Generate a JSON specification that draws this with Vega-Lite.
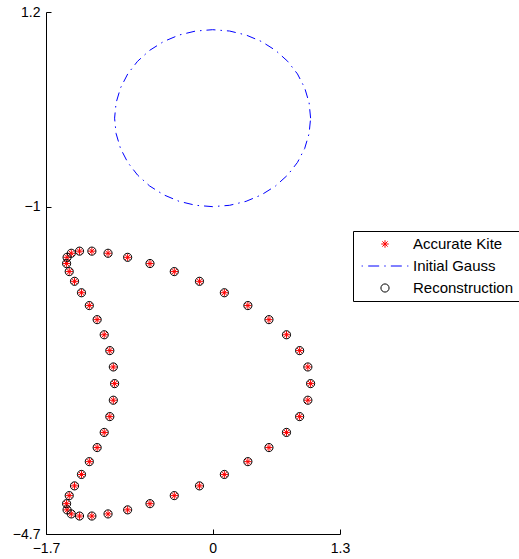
{
  "$schema": "https://vega.github.io/schema/vega-lite/v6.json",
  "width": 294,
  "height": 522,
  "autosize": {"type": "none"},
  "padding": {"left": 46, "top": 12, "right": 179, "bottom": 25},
  "background": "white",
  "config": {
    "view": {"stroke": null},
    "font": "Liberation Sans",
    "axis": {
      "grid": false,
      "domainColor": "black",
      "tickColor": "black",
      "labelColor": "black",
      "labelFont": "Liberation Sans",
      "labelFontSize": 14,
      "tickSize": -5,
      "labelFlush": false,
      "labelOverlap": false,
      "title": null
    },
    "axisX": {"labelPadding": 12},
    "axisY": {"labelPadding": 11},
    "legend": {
      "labelFont": "Liberation Sans",
      "labelFontSize": 15,
      "labelColor": "black",
      "strokeColor": "black",
      "fillColor": "white",
      "padding": 5,
      "rowPadding": 6,
      "clipHeight": 16,
      "labelOffset": 4,
      "symbolOffset": 3,
      "symbolSize": 2180,
      "symbolStrokeWidth": 1,
      "symbolFillColor": "transparent"
    }
  },
  "data": {
    "values": [
      {"s": "Accurate Kite", "x": 1.000, "y": -3.000},
      {"s": "Accurate Kite", "x": 0.972, "y": -2.812},
      {"s": "Accurate Kite", "x": 0.888, "y": -2.627},
      {"s": "Accurate Kite", "x": 0.754, "y": -2.448},
      {"s": "Accurate Kite", "x": 0.575, "y": -2.277},
      {"s": "Accurate Kite", "x": 0.360, "y": -2.118},
      {"s": "Accurate Kite", "x": 0.120, "y": -1.973},
      {"s": "Accurate Kite", "x": -0.134, "y": -1.844},
      {"s": "Accurate Kite", "x": -0.391, "y": -1.734},
      {"s": "Accurate Kite", "x": -0.639, "y": -1.643},
      {"s": "Accurate Kite", "x": -0.867, "y": -1.573},
      {"s": "Accurate Kite", "x": -1.067, "y": -1.527},
      {"s": "Accurate Kite", "x": -1.232, "y": -1.503},
      {"s": "Accurate Kite", "x": -1.358, "y": -1.503},
      {"s": "Accurate Kite", "x": -1.442, "y": -1.527},
      {"s": "Accurate Kite", "x": -1.485, "y": -1.573},
      {"s": "Accurate Kite", "x": -1.490, "y": -1.643},
      {"s": "Accurate Kite", "x": -1.463, "y": -1.734},
      {"s": "Accurate Kite", "x": -1.409, "y": -1.844},
      {"s": "Accurate Kite", "x": -1.338, "y": -1.973},
      {"s": "Accurate Kite", "x": -1.258, "y": -2.118},
      {"s": "Accurate Kite", "x": -1.178, "y": -2.277},
      {"s": "Accurate Kite", "x": -1.106, "y": -2.448},
      {"s": "Accurate Kite", "x": -1.049, "y": -2.627},
      {"s": "Accurate Kite", "x": -1.013, "y": -2.812},
      {"s": "Accurate Kite", "x": -1.000, "y": -3.000},
      {"s": "Accurate Kite", "x": -1.013, "y": -3.188},
      {"s": "Accurate Kite", "x": -1.049, "y": -3.373},
      {"s": "Accurate Kite", "x": -1.106, "y": -3.552},
      {"s": "Accurate Kite", "x": -1.178, "y": -3.723},
      {"s": "Accurate Kite", "x": -1.258, "y": -3.882},
      {"s": "Accurate Kite", "x": -1.338, "y": -4.027},
      {"s": "Accurate Kite", "x": -1.409, "y": -4.156},
      {"s": "Accurate Kite", "x": -1.463, "y": -4.266},
      {"s": "Accurate Kite", "x": -1.490, "y": -4.357},
      {"s": "Accurate Kite", "x": -1.485, "y": -4.427},
      {"s": "Accurate Kite", "x": -1.442, "y": -4.473},
      {"s": "Accurate Kite", "x": -1.358, "y": -4.497},
      {"s": "Accurate Kite", "x": -1.232, "y": -4.497},
      {"s": "Accurate Kite", "x": -1.067, "y": -4.473},
      {"s": "Accurate Kite", "x": -0.867, "y": -4.427},
      {"s": "Accurate Kite", "x": -0.639, "y": -4.357},
      {"s": "Accurate Kite", "x": -0.391, "y": -4.266},
      {"s": "Accurate Kite", "x": -0.134, "y": -4.156},
      {"s": "Accurate Kite", "x": 0.120, "y": -4.027},
      {"s": "Accurate Kite", "x": 0.360, "y": -3.882},
      {"s": "Accurate Kite", "x": 0.575, "y": -3.723},
      {"s": "Accurate Kite", "x": 0.754, "y": -3.552},
      {"s": "Accurate Kite", "x": 0.888, "y": -3.373},
      {"s": "Accurate Kite", "x": 0.972, "y": -3.188},
      {"s": "Reconstruction", "x": 1.000, "y": -3.000},
      {"s": "Reconstruction", "x": 0.972, "y": -2.812},
      {"s": "Reconstruction", "x": 0.888, "y": -2.627},
      {"s": "Reconstruction", "x": 0.754, "y": -2.448},
      {"s": "Reconstruction", "x": 0.575, "y": -2.277},
      {"s": "Reconstruction", "x": 0.360, "y": -2.118},
      {"s": "Reconstruction", "x": 0.120, "y": -1.973},
      {"s": "Reconstruction", "x": -0.134, "y": -1.844},
      {"s": "Reconstruction", "x": -0.391, "y": -1.734},
      {"s": "Reconstruction", "x": -0.639, "y": -1.643},
      {"s": "Reconstruction", "x": -0.867, "y": -1.573},
      {"s": "Reconstruction", "x": -1.067, "y": -1.527},
      {"s": "Reconstruction", "x": -1.232, "y": -1.503},
      {"s": "Reconstruction", "x": -1.358, "y": -1.503},
      {"s": "Reconstruction", "x": -1.442, "y": -1.527},
      {"s": "Reconstruction", "x": -1.485, "y": -1.573},
      {"s": "Reconstruction", "x": -1.490, "y": -1.643},
      {"s": "Reconstruction", "x": -1.463, "y": -1.734},
      {"s": "Reconstruction", "x": -1.409, "y": -1.844},
      {"s": "Reconstruction", "x": -1.338, "y": -1.973},
      {"s": "Reconstruction", "x": -1.258, "y": -2.118},
      {"s": "Reconstruction", "x": -1.178, "y": -2.277},
      {"s": "Reconstruction", "x": -1.106, "y": -2.448},
      {"s": "Reconstruction", "x": -1.049, "y": -2.627},
      {"s": "Reconstruction", "x": -1.013, "y": -2.812},
      {"s": "Reconstruction", "x": -1.000, "y": -3.000},
      {"s": "Reconstruction", "x": -1.013, "y": -3.188},
      {"s": "Reconstruction", "x": -1.049, "y": -3.373},
      {"s": "Reconstruction", "x": -1.106, "y": -3.552},
      {"s": "Reconstruction", "x": -1.178, "y": -3.723},
      {"s": "Reconstruction", "x": -1.258, "y": -3.882},
      {"s": "Reconstruction", "x": -1.338, "y": -4.027},
      {"s": "Reconstruction", "x": -1.409, "y": -4.156},
      {"s": "Reconstruction", "x": -1.463, "y": -4.266},
      {"s": "Reconstruction", "x": -1.490, "y": -4.357},
      {"s": "Reconstruction", "x": -1.485, "y": -4.427},
      {"s": "Reconstruction", "x": -1.442, "y": -4.473},
      {"s": "Reconstruction", "x": -1.358, "y": -4.497},
      {"s": "Reconstruction", "x": -1.232, "y": -4.497},
      {"s": "Reconstruction", "x": -1.067, "y": -4.473},
      {"s": "Reconstruction", "x": -0.867, "y": -4.427},
      {"s": "Reconstruction", "x": -0.639, "y": -4.357},
      {"s": "Reconstruction", "x": -0.391, "y": -4.266},
      {"s": "Reconstruction", "x": -0.134, "y": -4.156},
      {"s": "Reconstruction", "x": 0.120, "y": -4.027},
      {"s": "Reconstruction", "x": 0.360, "y": -3.882},
      {"s": "Reconstruction", "x": 0.575, "y": -3.723},
      {"s": "Reconstruction", "x": 0.754, "y": -3.552},
      {"s": "Reconstruction", "x": 0.888, "y": -3.373},
      {"s": "Reconstruction", "x": 0.972, "y": -3.188},
      {"s": "Initial Gauss", "k": 0, "x": 1, "y": 0},
      {"s": "Initial Gauss", "k": 1, "x": 0.9848, "y": 0.1736},
      {"s": "Initial Gauss", "k": 2, "x": 0.9397, "y": 0.342},
      {"s": "Initial Gauss", "k": 3, "x": 0.866, "y": 0.5},
      {"s": "Initial Gauss", "k": 4, "x": 0.766, "y": 0.6428},
      {"s": "Initial Gauss", "k": 5, "x": 0.6428, "y": 0.766},
      {"s": "Initial Gauss", "k": 6, "x": 0.5, "y": 0.866},
      {"s": "Initial Gauss", "k": 7, "x": 0.342, "y": 0.9397},
      {"s": "Initial Gauss", "k": 8, "x": 0.1736, "y": 0.9848},
      {"s": "Initial Gauss", "k": 9, "x": 0, "y": 1},
      {"s": "Initial Gauss", "k": 10, "x": -0.1736, "y": 0.9848},
      {"s": "Initial Gauss", "k": 11, "x": -0.342, "y": 0.9397},
      {"s": "Initial Gauss", "k": 12, "x": -0.5, "y": 0.866},
      {"s": "Initial Gauss", "k": 13, "x": -0.6428, "y": 0.766},
      {"s": "Initial Gauss", "k": 14, "x": -0.766, "y": 0.6428},
      {"s": "Initial Gauss", "k": 15, "x": -0.866, "y": 0.5},
      {"s": "Initial Gauss", "k": 16, "x": -0.9397, "y": 0.342},
      {"s": "Initial Gauss", "k": 17, "x": -0.9848, "y": 0.1736},
      {"s": "Initial Gauss", "k": 18, "x": -1, "y": 0},
      {"s": "Initial Gauss", "k": 19, "x": -0.9848, "y": -0.1736},
      {"s": "Initial Gauss", "k": 20, "x": -0.9397, "y": -0.342},
      {"s": "Initial Gauss", "k": 21, "x": -0.866, "y": -0.5},
      {"s": "Initial Gauss", "k": 22, "x": -0.766, "y": -0.6428},
      {"s": "Initial Gauss", "k": 23, "x": -0.6428, "y": -0.766},
      {"s": "Initial Gauss", "k": 24, "x": -0.5, "y": -0.866},
      {"s": "Initial Gauss", "k": 25, "x": -0.342, "y": -0.9397},
      {"s": "Initial Gauss", "k": 26, "x": -0.1736, "y": -0.9848},
      {"s": "Initial Gauss", "k": 27, "x": 0, "y": -1},
      {"s": "Initial Gauss", "k": 28, "x": 0.1736, "y": -0.9848},
      {"s": "Initial Gauss", "k": 29, "x": 0.342, "y": -0.9397},
      {"s": "Initial Gauss", "k": 30, "x": 0.5, "y": -0.866},
      {"s": "Initial Gauss", "k": 31, "x": 0.6428, "y": -0.766},
      {"s": "Initial Gauss", "k": 32, "x": 0.766, "y": -0.6428},
      {"s": "Initial Gauss", "k": 33, "x": 0.866, "y": -0.5},
      {"s": "Initial Gauss", "k": 34, "x": 0.9397, "y": -0.342},
      {"s": "Initial Gauss", "k": 35, "x": 0.9848, "y": -0.1736},
      {"s": "Initial Gauss", "k": 36, "x": 1, "y": 0}
    ]
  },
  "layer": [
    {
      "transform": [{"filter": "datum.s === 'Initial Gauss'"}],
      "mark": {"type": "line", "color": "#0000ff", "strokeWidth": 1, "strokeDash": [9, 5, 1.5, 5]},
      "encoding": {
        "x": {"field": "x", "type": "quantitative", "scale": {"domain": [-1.7, 1.3], "nice": false, "zero": false}, "axis": {"values": [-1.7, 0, 1.3], "format": "~g"}},
        "y": {"field": "y", "type": "quantitative", "scale": {"domain": [-4.7, 1.2], "nice": false, "zero": false}, "axis": {"values": [-4.7, -1, 1.2], "format": "~g"}},
        "order": {"field": "k", "type": "quantitative"}
      }
    },
    {
      "transform": [{"filter": "datum.s !== 'Initial Gauss'"}],
      "mark": {"type": "point", "filled": false, "size": 2180, "strokeWidth": 1, "opacity": 1},
      "encoding": {
        "x": {"field": "x", "type": "quantitative"},
        "y": {"field": "y", "type": "quantitative"},
        "color": {
          "field": "s", "type": "nominal",
          "scale": {"domain": ["Accurate Kite", "Initial Gauss", "Reconstruction"], "range": ["#ff0000", "#0000ff", "#000000"]},
          "legend": {"title": null, "orient": "none", "legendX": 307, "legendY": 219}
        },
        "shape": {
          "field": "s", "type": "nominal",
          "scale": {"domain": ["Accurate Kite", "Initial Gauss", "Reconstruction"], "range": [
            "M-0.16,0L0.16,0M0,-0.16L0,0.16M-0.113,-0.113L0.113,0.113M-0.113,0.113L0.113,-0.113",
            "M-1,0L-0.95,0M-0.72,0L-0.25,0M-0.03,0L0.03,0M0.25,0L0.72,0M0.95,0L1,0",
            "M0.175,0A0.175,0.175,0,1,1,-0.175,0A0.175,0.175,0,1,1,0.175,0Z"
          ]},
          "legend": {"title": null, "orient": "none", "legendX": 307, "legendY": 219}
        }
      }
    }
  ]
}
